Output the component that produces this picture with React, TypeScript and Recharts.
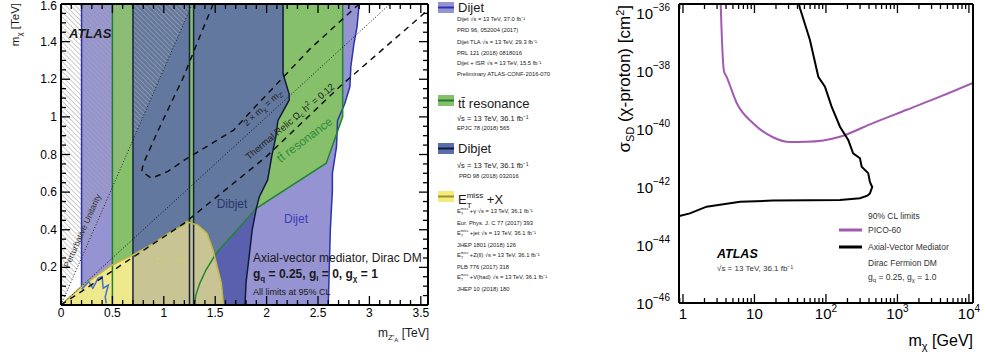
import React from "react";
import { ComposedChart, Area, Line, XAxis, YAxis } from "recharts";

const FONT = "'Liberation Sans', Arial, Helvetica, sans-serif";

// ---------- left panel: m_chi vs m_Z'A, both in TeV ----------
const L_X_TICKS = [0, 0.5, 1, 1.5, 2, 2.5, 3, 3.5];
const L_Y_TICKS = [0.2, 0.4, 0.6, 0.8, 1, 1.2, 1.4, 1.6];
const L_X_MINOR = Array.from({ length: 36 }, (_, i) => +(i * 0.1).toFixed(1));
const L_Y_MINOR = Array.from({ length: 33 }, (_, i) => +(i * 0.05).toFixed(2));

// region edges: x = m_Z' at a given m_chi (y)
const UNITARITY_LINE = [{ y: 0, x: 0 }, { y: 1.6, x: 1.277 }];
const DIJET_EDGE = [
  { y: 0, x: 2.6 }, { y: 0.2, x: 2.61 }, { y: 0.4, x: 2.62 }, { y: 0.505, x: 2.63 },
  { y: 0.61, x: 2.64 }, { y: 0.7, x: 2.64 }, { y: 0.84, x: 2.68 }, { y: 0.98, x: 2.69 },
  { y: 1.07, x: 2.76 }, { y: 1.16, x: 2.81 }, { y: 1.27, x: 2.82 }, { y: 1.39, x: 2.85 },
  { y: 1.48, x: 2.88 }, { y: 1.6, x: 2.9 },
];
const TT_EDGE = [
  { y: 0, x: 1.3 }, { y: 0.05, x: 1.31 }, { y: 0.115, x: 1.35 }, { y: 0.186, x: 1.41 },
  { y: 0.275, x: 1.51 }, { y: 0.514, x: 1.9 }, { y: 0.754, x: 2.58 }, { y: 1.0, x: 2.74 },
  { y: 1.6, x: 2.74 },
];
const DIBJET_EDGE = [
  { y: 0, x: 1.79 }, { y: 0.12, x: 1.8 }, { y: 0.257, x: 1.83 }, { y: 0.4, x: 1.86 },
  { y: 0.514, x: 1.9 }, { y: 0.576, x: 1.93 }, { y: 0.665, x: 2.01 }, { y: 0.79, x: 2.05 },
  { y: 0.895, x: 2.09 }, { y: 0.98, x: 2.11 }, { y: 1.09, x: 2.22 }, { y: 1.12, x: 2.22 },
  { y: 1.23, x: 2.16 }, { y: 1.6, x: 2.16 },
];
// dibjet part with no ttbar underneath (between ttbar edge and dibjet edge)
const DIBJET_ONLY = [
  { y: 0, x: [1.3, 1.79] }, { y: 0.05, x: [1.31, 1.795] }, { y: 0.115, x: [1.35, 1.8] },
  { y: 0.186, x: [1.41, 1.815] }, { y: 0.275, x: [1.51, 1.835] }, { y: 0.4, x: [1.71, 1.86] },
  { y: 0.514, x: [1.9, 1.9] },
];
const DIBJET_LOW = [{ y: 0, x: [0.7, 1.25] }, { y: 1.6, x: [0.7, 1.25] }];
const EMISS_LEFT = [
  { y: 0, x: [0, 0.7] }, { y: 0.098, x: [0.2, 0.7] }, { y: 0.21, x: [0.49, 0.7] }, { y: 0.266, x: [0.7, 0.7] },
];
const EMISS_RIGHT = [
  { y: 0, x: [0.7, 1.58] }, { y: 0.115, x: [0.7, 1.56] }, { y: 0.266, x: [0.7, 1.49] },
  { y: 0.29, x: [0.77, 1.48] }, { y: 0.33, x: [0.91, 1.455] }, { y: 0.37, x: [1.01, 1.43] },
  { y: 0.38, x: [1.04, 1.42] }, { y: 0.4, x: [1.11, 1.39] }, { y: 0.425, x: [1.2, 1.33] },
  { y: 0.443, x: [1.22, 1.22] },
];
const EMISS_EDGE = [
  { x: 0, y: 0 }, { x: 0.2, y: 0.098 }, { x: 0.49, y: 0.21 }, { x: 0.7, y: 0.266 }, { x: 0.91, y: 0.33 },
  { x: 1.01, y: 0.37 }, { x: 1.11, y: 0.4 }, { x: 1.2, y: 0.425 }, { x: 1.22, y: 0.443 }, { x: 1.33, y: 0.425 },
  { x: 1.42, y: 0.38 }, { x: 1.48, y: 0.29 }, { x: 1.56, y: 0.115 }, { x: 1.58, y: 0 },
];
const MONOJET = [
  { x: 0.2, y: 0.083 }, { x: 0.27, y: 0.124 }, { x: 0.31, y: 0.089 }, { x: 0.36, y: 0.142 },
  { x: 0.4, y: 0.151 }, { x: 0.41, y: 0.089 }, { x: 0.46, y: 0.106 }, { x: 0.43, y: 0.044 }, { x: 0.44, y: 0.009 },
];
const TWO_MCHI = [{ x: 0, y: 0 }, { x: 3.2, y: 1.6 }];
const RELIC_LOW = [
  { x: 0, y: 0 }, { x: 1.2, y: 0.435 }, { x: 2.0, y: 0.79 }, { x: 2.71, y: 1.16 }, { x: 3.49, y: 1.53 }, { x: 3.57, y: 1.57 },
];
const RELIC_U = [
  { x: 1.48, y: 1.6 }, { x: 1.33, y: 1.4 }, { x: 1.19, y: 1.21 }, { x: 1.05, y: 1.05 }, { x: 0.93, y: 0.91 },
  { x: 0.8, y: 0.75 }, { x: 0.785, y: 0.71 }, { x: 0.88, y: 0.674 }, { x: 1.04, y: 0.71 }, { x: 1.2, y: 0.77 },
  { x: 1.68, y: 0.93 }, { x: 1.9, y: 1.06 }, { x: 2.16, y: 1.21 }, { x: 2.42, y: 1.36 }, { x: 2.9, y: 1.6 },
];
// vertical band edges: [m_Z', from m_chi, colour]
const BAND_EDGES: [number, number, string][] = [
  [0.2, 0.098, "#2c33ad"], [0.5, 0, "#1f7d33"], [0.7, 0, "#18243f"], [1.25, 0, "#18243f"], [1.29, 0, "#18243f"],
];

// ---------- right panel: sigma_SD vs m_chi ----------
const R_X_TICKS = [1, 10, 100, 1000, 10000];
const R_X_MINOR = [0.9, 2, 3, 4, 5, 6, 7, 8, 9, 20, 30, 40, 50, 60, 70, 80, 90, 200, 300, 400, 500, 600, 700, 800, 900,
  2000, 3000, 4000, 5000, 6000, 7000, 8000, 9000];
const R_Y_TICKS = [1e-46, 1e-44, 1e-42, 1e-40, 1e-38, 1e-36];
const R_Y_MINOR = [1e-45, 1e-43, 1e-41, 1e-39, 1e-37];
const PICO60 = [
  { x: 3.37, y: 2.0e-36 }, { x: 3.48, y: 2.0e-37 }, { x: 3.74, y: 1.0e-38 }, { x: 4.08, y: 6.3e-39 },
  { x: 5.64, y: 7.9e-40 }, { x: 9.5, y: 1.6e-40 }, { x: 18.1, y: 5.2e-41 }, { x: 31.4, y: 3.55e-41 },
  { x: 53.7, y: 3.6e-41 }, { x: 157, y: 5.4e-41 }, { x: 454, y: 1.6e-40 }, { x: 1349, y: 4.6e-40 },
  { x: 3930, y: 1.3e-39 }, { x: 11400, y: 3.9e-39 },
];
const AXIAL = [
  { x: 0.89, y: 1.0e-43 }, { x: 1.25, y: 1.23e-43 }, { x: 2.14, y: 2.1e-43 }, { x: 6.3, y: 3.1e-43 },
  { x: 18.1, y: 3.4e-43 }, { x: 60, y: 3.5e-43 }, { x: 157, y: 3.55e-43 }, { x: 299, y: 4.1e-43 },
  { x: 380, y: 5.0e-43 }, { x: 412, y: 6.0e-43 }, { x: 444, y: 1.0e-42 }, { x: 412, y: 1.5e-42 },
  { x: 390, y: 3.0e-42 }, { x: 316, y: 5.0e-42 }, { x: 299, y: 9.8e-42 }, { x: 240, y: 1.45e-41 },
  { x: 205, y: 4.2e-41 }, { x: 157, y: 1.2e-40 }, { x: 120, y: 5.9e-40 }, { x: 96.8, y: 2.9e-39 },
  { x: 78.2, y: 6.3e-39 }, { x: 59.7, y: 1.17e-37 }, { x: 43.3, y: 1.45e-36 }, { x: 42, y: 2.0e-36 },
];

const PURPLE = "#9593d1";
const GREEN = "#86c06b";
const STEEL = "#63789f";
const DARKBLUE = "#5a5fae";

const frame = { stroke: "#000", strokeWidth: 2 };
const NoLabel = () => <g />;
const TK = { stroke: "#000", strokeWidth: 1.3 };

type Box = { l: number; r: number; t: number; b: number };
const LBOX: Box = { l: 61, r: 428, t: 4, b: 305 };
const RBOX: Box = { l: 679, r: 973, t: 4, b: 303 };

// y tick: inward marks on left and right frame, label only for majors
const yTick = (box: Box, majors: number[], label: (p: any) => React.ReactNode) => (p: any) => {
  const major = majors.includes(p.payload.value);
  const n = major ? 9 : 5;
  return (
    <g>
      <line x1={box.l} x2={box.l + n} y1={p.y} y2={p.y} {...TK} />
      <line x1={box.r - n} x2={box.r} y1={p.y} y2={p.y} {...TK} />
      {label(p)}
    </g>
  );
};
const xTick = (box: Box, majors: number[], label: (p: any) => React.ReactNode) => (p: any) => {
  const major = majors.includes(p.payload.value);
  const n = major ? 9 : 5;
  return (
    <g>
      <line x1={p.x} x2={p.x} y1={box.b - n} y2={box.b} {...TK} />
      <line x1={p.x} x2={p.x} y1={box.t} y2={box.t + n} {...TK} />
      {label(p)}
    </g>
  );
};

const leftYLabel = (p: any) =>
  L_Y_TICKS.includes(p.payload.value) ? (
    <text x={p.x} y={p.y} dy={Math.max(4, 9.5 - p.y)} textAnchor="end" fontFamily={FONT} fontSize={12} fill="#000">
      {p.payload.value}
    </text>
  ) : null;
const leftXLabel = (p: any) =>
  L_X_TICKS.includes(p.payload.value) ? (
    <text x={p.x} y={p.y} dy={9} textAnchor="middle" fontFamily={FONT} fontSize={12} fill="#000">
      {p.payload.value}
    </text>
  ) : null;
const logYLabel = (p: any) => {
  if (!R_Y_TICKS.includes(p.payload.value)) return null;
  const e = Math.round(Math.log10(p.payload.value));
  return (
    <text x={p.x} y={p.y} textAnchor="end" fontFamily={FONT} fontSize={15} fill="#000">
      <tspan dy={6}>10</tspan>
      <tspan dy={-8} fontSize={10}>{"\u2212" + Math.abs(e)}</tspan>
    </text>
  );
};
const logXLabel = (p: any) => {
  const v = p.payload.value;
  if (!R_X_TICKS.includes(v)) return null;
  const e = Math.round(Math.log10(v));
  return (
    <text x={p.x} y={p.y} textAnchor="middle" fontFamily={FONT} fontSize={15} fill="#000">
      <tspan dy={11}>{e < 2 ? String(v) : "10"}</tspan>
      {e >= 2 && <tspan dy={-7} fontSize={10}>{e}</tspan>}
    </text>
  );
};

const L_X_DOM: [number, number] = [0, 3.57];
const L_Y_DOM: [number, number] = [0, 1.6];
const L_MARGIN = { top: 4, right: 12, bottom: 31, left: 0 };

// left axes; drawn twice: plain under the regions, with ticks in a transparent chart on top
function leftAxes(withTicks: boolean) {
  return [
    <XAxis key="x" type="number" domain={L_X_DOM} ticks={L_X_MINOR} allowDataOverflow interval={0} height={20}
      tickLine={false} tickSize={0} tickMargin={3} axisLine={withTicks ? frame : false}
      tick={withTicks ? xTick(LBOX, L_X_TICKS, leftXLabel) : NoLabel} />,
    <XAxis key="xt" xAxisId="top" orientation="top" type="number" domain={L_X_DOM} ticks={L_X_TICKS} allowDataOverflow
      mirror height={1} tickLine={false} axisLine={withTicks ? frame : false} tick={NoLabel} />,
    <YAxis key="y" type="number" dataKey="y" domain={L_Y_DOM} reversed ticks={L_Y_MINOR} allowDataOverflow interval={0}
      width={61} tickLine={false} tickSize={0} tickMargin={4} axisLine={withTicks ? frame : false}
      tick={withTicks ? yTick(LBOX, [0, ...L_Y_TICKS], leftYLabel) : NoLabel} />,
    <YAxis key="yr" yAxisId="right" orientation="right" type="number" domain={L_Y_DOM} reversed ticks={L_Y_TICKS}
      allowDataOverflow mirror width={1} tickLine={false} axisLine={withTicks ? frame : false} tick={NoLabel} />,
  ];
}

function LeftPanel() {
  const dijet = DIJET_EDGE.map((p) => ({ y: p.y, x: [0.2, p.x] }));
  const tt = TT_EDGE.map((p) => ({ y: p.y, x: [0.5, p.x] }));
  const dibjet = DIBJET_EDGE.map((p) => ({ y: p.y, x: [1.29, p.x] }));
  const hatch = UNITARITY_LINE.map((p) => ({ y: p.y, x: [0, p.x] }));
  const area = (data: any[], fill: string, key: string) => (
    <Area key={key} data={data} dataKey="x" type="linear" fill={fill} fillOpacity={1} stroke="none" isAnimationActive={false} />
  );
  const line = (data: any[], stroke: string, key: string, dash?: string, w = 1.5) => (
    <Line key={key} data={data} dataKey="x" type="linear" stroke={stroke} strokeWidth={w} strokeDasharray={dash}
      dot={false} activeDot={false} isAnimationActive={false} />
  );
  return (
    <div style={{ position: "relative", width: 440, height: 356 }}>
      <div style={{ position: "absolute", left: 0, top: 0 }}>
        <ComposedChart layout="vertical" width={440} height={356} margin={L_MARGIN}>
          <defs>
            <pattern id="hatch" width="3.5" height="3.5" patternUnits="userSpaceOnUse" patternTransform="rotate(-45)">
              <line x1="0" y1="0" x2="0" y2="3.5" stroke="#a8a8a8" strokeWidth="1.2" />
            </pattern>
          </defs>
          {leftAxes(false)}
          {area(dijet, PURPLE, "dijet")}
          {area(tt, GREEN, "tt")}
          {area(DIBJET_LOW, STEEL, "dibjetlow")}
          {area(dibjet, STEEL, "dibjet")}
          {area(DIBJET_ONLY, DARKBLUE, "dibjetonly")}
          {area(hatch, "url(#hatch)", "hatch")}
          {area(EMISS_LEFT, "#eee98d", "emissl")}
          {area(EMISS_RIGHT, "#c9c494", "emissr")}

          {line(DIJET_EDGE, "#2c33ad", "dijetedge")}
          {line(TT_EDGE, "#228536", "ttedge")}
          {line(DIBJET_EDGE, "#121a3a", "dibjetedge")}
          {BAND_EDGES.map(([x, y0, c], i) => line([{ y: y0, x }, { y: 1.6, x }], c, "band" + i))}
          {line(EMISS_EDGE, "#c2b944", "emissedge")}
          {line(MONOJET, "#4a70c8", "mono")}
          {line(UNITARITY_LINE, "#222", "unit", "1 2", 1)}
          {line(TWO_MCHI, "#111", "twom", "1 2", 1)}
          {line(RELIC_LOW, "#111", "relic1", "6 5", 1.5)}
          {line(RELIC_U, "#111", "relic2", "6 5", 1.5)}
        </ComposedChart>
      </div>
      <div style={{ position: "absolute", left: 0, top: 0 }}>
        <ComposedChart layout="vertical" width={440} height={356} margin={L_MARGIN}>
          {leftAxes(true)}
          {line(UNITARITY_LINE, "none", "anchor")}
        </ComposedChart>
      </div>
    </div>
  );
}

function RightPanel() {
  const xDom: [number, number] = [0.88, 11400];
  const yDom: [number, number] = [1e-46, 2.04e-36];
  const xAll = [...R_X_TICKS, ...R_X_MINOR].sort((a, b) => a - b);
  const yAll = [...R_Y_TICKS, ...R_Y_MINOR].sort((a, b) => a - b);
  return (
    <ComposedChart width={385} height={356} margin={{ top: 4, right: 12, bottom: 31, left: 0 }}>
      <Line data={PICO60} dataKey="y" type="monotone" stroke="#a259b0" strokeWidth={2} dot={false} activeDot={false}
        isAnimationActive={false} />
      <Line data={AXIAL} dataKey="y" type="linear" stroke="#000" strokeWidth={2} dot={false} activeDot={false}
        isAnimationActive={false} />
      <XAxis dataKey="x" type="number" scale="log" domain={xDom} ticks={xAll} allowDataOverflow interval={0}
        height={22} tickLine={false} tickSize={0} tickMargin={5} axisLine={frame} tick={xTick(RBOX, R_X_TICKS, logXLabel)} />
      <XAxis xAxisId="top" orientation="top" type="number" scale="log" domain={xDom} ticks={R_X_TICKS} allowDataOverflow
        mirror height={1} tickLine={false} axisLine={frame} tick={NoLabel} />
      <YAxis type="number" scale="log" domain={yDom} ticks={yAll} allowDataOverflow interval={0} width={79}
        tickLine={false} tickSize={0} tickMargin={9} axisLine={frame} tick={yTick(RBOX, R_Y_TICKS, logYLabel)} />
      <YAxis yAxisId="right" orientation="right" type="number" scale="log" domain={yDom} ticks={R_Y_TICKS}
        allowDataOverflow mirror width={1} tickLine={false} axisLine={frame} tick={NoLabel} />
    </ComposedChart>
  );
}

const Emiss = ({ size }: { size: number }) => (
  <>
    <tspan>E</tspan>
    <tspan fontSize={size * 0.62} dy={size * 0.3}>T</tspan>
    <tspan fontSize={size * 0.62} dx={-size * 0.38} dy={-size * 0.75}>miss</tspan>
    <tspan dy={size * 0.45}> </tspan>
  </>
);

function Overlay() {
  const t = { fontFamily: FONT, fill: "#1a1a1a" } as const;
  const small = 5.8;
  return (
    <svg width={985} height={356} style={{ position: "absolute", left: 0, top: 0, pointerEvents: "none" }}>
      {/* left panel axis titles */}
      <text {...t} fontSize={11.5} textAnchor="end" transform="rotate(-90 19 3)" x={19} y={3}>
        m<tspan fontSize={8} dy={3}>χ</tspan><tspan dy={-3}> [TeV]</tspan>
      </text>
      <text {...t} fontSize={12} textAnchor="end" x={429} y={337}>
        m<tspan fontSize={8} dy={3}>Z'</tspan><tspan fontSize={6} dy={2}>A</tspan><tspan dy={-5}> [TeV]</tspan>
      </text>
      {/* left panel annotations */}
      <text {...t} fontSize={13} fontWeight="bold" fontStyle="italic" x={69} y={38}>ATLAS</text>
      <text {...t} fontSize={8.5} fill="#333" textAnchor="middle" transform="rotate(-66 85 232)" x={85} y={232}>
        Perturbative Unitarity
      </text>
      <text {...t} fontSize={9} fill="#222" textAnchor="middle" transform="rotate(-42 265 110)" x={265} y={110}>
        2 × m<tspan fontSize={6.5} dy={2}>χ</tspan><tspan dy={-2}> = m</tspan><tspan fontSize={6.5} dy={2}>Z'</tspan>
      </text>
      <text {...t} fontSize={9.5} fill="#222" textAnchor="middle" transform="rotate(-40 292 124)" x={292} y={124}>
        Thermal Relic Ω<tspan fontSize={6.5} dy={2}>c</tspan><tspan dy={-2}> h</tspan>
        <tspan fontSize={6.5} dy={-4}>2</tspan><tspan dy={4}> = 0.12</tspan>
      </text>
      <text {...t} fontSize={12} fill="#2e8c3c" textAnchor="middle" transform="rotate(-37 307 143)" x={307} y={143}>
        tt̄ resonance
      </text>
      <text {...t} fontSize={12} fill="#2b3670" textAnchor="middle" x={232} y={208}>Dibjet</text>
      <text {...t} fontSize={12} fill="#3b40b8" textAnchor="middle" x={296} y={223}>Dijet</text>
      <text {...t} fontSize={9} fill="#d2cb7a" x={155} y={264}><Emiss size={9} />+X</text>
      <text {...t} fontSize={12} x={253} y={262}>Axial-vector mediator, Dirac DM</text>
      <text {...t} fontSize={12} fontWeight="bold" x={253} y={278}>
        g<tspan fontSize={8} dy={3}>q</tspan><tspan dy={-3}> = 0.25, g</tspan><tspan fontSize={8} dy={3}>l</tspan>
        <tspan dy={-3}> = 0, g</tspan><tspan fontSize={8} dy={3}>χ</tspan><tspan dy={-3}> = 1</tspan>
      </text>
      <text {...t} fontSize={9} x={253} y={295}>All limits at 95% CL</text>

      {/* legend */}
      <rect x={438} y={2} width={16} height={11} fill={PURPLE} />
      <line x1={438} x2={454} y1={7.5} y2={7.5} stroke="#2c33ad" strokeWidth={2} />
      <text {...t} fontSize={13} x={458} y={12}>Dijet</text>
      <text {...t} fontSize={small} x={457} y={21}>Dijet √s = 13 TeV, 37.0 fb⁻¹</text>
      <text {...t} fontSize={small} x={457} y={32}>PRD 96, 052004 (2017)</text>
      <text {...t} fontSize={small} x={457} y={44}>Dijet TLA √s = 13 TeV, 29.3 fb⁻¹</text>
      <text {...t} fontSize={small} x={457} y={55}>PRL 121 (2018) 0818016</text>
      <text {...t} fontSize={small} x={457} y={65}>Dijet + ISR √s = 13 TeV, 15.5 fb⁻¹</text>
      <text {...t} fontSize={small} x={457} y={76}>Preliminary ATLAS-CONF-2016-070</text>

      <rect x={438} y={95} width={16} height={11} fill={GREEN} />
      <line x1={438} x2={454} y1={100.5} y2={100.5} stroke="#1f7d33" strokeWidth={2} />
      <text {...t} fontSize={13} x={458} y={108}>tt̄ resonance</text>
      <text {...t} fontSize={7.5} x={457} y={121}>√s = 13 TeV, 36.1 fb⁻¹</text>
      <text {...t} fontSize={small} x={457} y={130}>EPJC 78 (2018) 565</text>

      <rect x={438} y={143} width={16} height={11} fill="#5a6eaa" />
      <line x1={438} x2={454} y1={148.5} y2={148.5} stroke="#121a3a" strokeWidth={2} />
      <text {...t} fontSize={13} x={458} y={153}>Dibjet</text>
      <text {...t} fontSize={7.5} x={457} y={168}>√s = 13 TeV, 36.1 fb⁻¹</text>
      <text {...t} fontSize={small} x={459} y={178}>PRD 98 (2018) 032016</text>

      <rect x={438} y={191} width={16} height={11} fill="#f3ec7a" />
      <line x1={438} x2={454} y1={196.5} y2={196.5} stroke="#9a9030" strokeWidth={2} />
      <text {...t} fontSize={13} x={458} y={204}><Emiss size={13} />+X</text>
      {[
        ["+γ √s = 13 TeV, 36.1 fb⁻¹", "Eur. Phys. J. C 77 (2017) 393", 213],
        ["+jet √s = 13 TeV, 36.1 fb⁻¹", "JHEP 1801 (2018) 126", 235],
        ["+Z(ll) √s = 13 TeV, 36.1 fb⁻¹", "PLB 776 (2017) 318", 257],
        ["+V(had) √s = 13 TeV, 36.1 fb⁻¹", "JHEP 10 (2018) 180", 279],
      ].map(([a, b, y]) => (
        <g key={b as string}>
          <text {...t} fontSize={small} x={457} y={y as number}><Emiss size={small} />{a}</text>
          <text {...t} fontSize={small} x={457} y={(y as number) + 11.5}>{b}</text>
        </g>
      ))}

      {/* right panel titles and legend */}
      <text {...t} fill="#000" fontSize={17} textAnchor="end" transform="rotate(-90 630 5)" x={630} y={5}>
        σ<tspan fontSize={11} dy={4}>SD</tspan><tspan dy={-4}> (χ-proton) [cm</tspan>
        <tspan fontSize={11} dy={-6}>2</tspan><tspan dy={6}>]</tspan>
      </text>
      <text {...t} fill="#000" fontSize={16} textAnchor="end" x={973} y={346}>
        m<tspan fontSize={11} dy={4}>χ</tspan><tspan dy={-4}> [GeV]</tspan>
      </text>
      <text {...t} fill="#333" fontSize={8.5} x={868} y={219}>90% CL limits</text>
      <line x1={839} x2={862} y1={230} y2={230} stroke="#a259b0" strokeWidth={3} />
      <text {...t} fill="#333" fontSize={8.5} x={868} y={233}>PICO-60</text>
      <line x1={839} x2={862} y1={247} y2={247} stroke="#000" strokeWidth={3} />
      <text {...t} fill="#333" fontSize={8.5} x={868} y={250}>Axial-Vector Mediator</text>
      <text {...t} fill="#333" fontSize={8.5} x={868} y={266}>Dirac Fermion DM</text>
      <text {...t} fill="#333" fontSize={8.5} x={868} y={280}>
        g<tspan fontSize={6} dy={2}>q</tspan><tspan dy={-2}> = 0.25, g</tspan><tspan fontSize={6} dy={2}>χ</tspan>
        <tspan dy={-2}> = 1.0</tspan>
      </text>
      <text {...t} fill="#000" fontSize={12.5} fontWeight="bold" fontStyle="italic" x={717} y={258}>ATLAS</text>
      <text {...t} fill="#333" fontSize={8} x={717} y={271}>√s = 13 TeV, 36.1 fb⁻¹</text>
    </svg>
  );
}

export default function App() {
  return (
    <div style={{ position: "absolute", left: 0, top: 0, width: 985, height: 356, background: "#fff", fontFamily: FONT }}>
      <div style={{ position: "absolute", left: 0, top: 0 }}>
        <LeftPanel />
      </div>
      <div style={{ position: "absolute", left: 600, top: 0 }}>
        <RightPanel />
      </div>
      <Overlay />
    </div>
  );
}
